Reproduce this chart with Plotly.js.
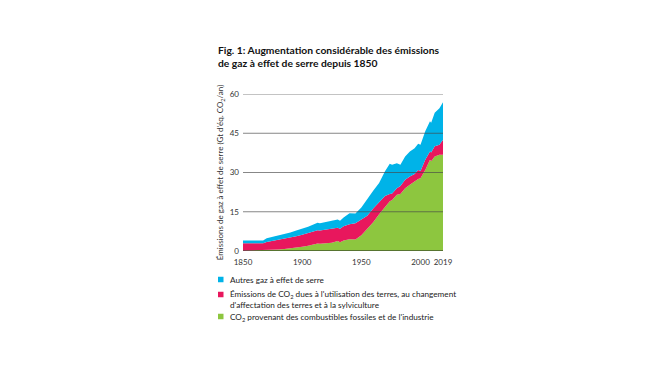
<!DOCTYPE html>
<html>
<head>
<meta charset="utf-8">
<script src="https://cdn.plot.ly/plotly-3.0.1.min.js"></script>
<style>html,body{margin:0;padding:0;background:#fff;}#chart{width:670px;height:377px;}</style>
</head>
<body>
<div id="chart"></div>
<script>
const years = [1850,1860,1867,1870,1875,1880,1885,1890,1895,1900,1905,1910,1913,1915,1920,1925,1930,1932,1935,1940,1945,1950,1955,1960,1965,1970,1974,1976,1980,1983,1987,1991,1995,1998,2000,2004,2008,2009,2012,2016,2019];
const co2Fossil = [0.1,0.2,0.35,0.4,0.5,0.6,0.8,1.0,1.3,1.6,2.0,2.6,2.9,2.8,3.0,3.2,3.8,3.3,4.0,4.5,4.4,6.0,8.5,11.0,14.0,17.0,19.0,19.5,21.5,21.8,24.0,25.3,26.6,27.5,27.8,31.0,34.9,34.3,36.1,36.8,36.8];
const co2Land = [2.9,2.8,2.65,3.0,3.3,3.6,3.9,4.1,4.3,4.6,4.8,4.9,5.0,5.0,5.1,5.2,5.1,5.2,5.5,5.7,6.2,6.0,5.0,5.2,4.6,4.0,2.8,2.5,2.5,3.0,3.2,3.2,2.8,3.5,2.8,3.9,3.1,3.3,3.9,3.8,5.7];
const otherGas = [1.0,1.0,1.0,1.5,1.6,1.8,1.9,2.0,2.2,2.3,2.5,2.7,2.9,2.8,2.9,3.0,3.1,3.1,3.3,4.2,3.7,4.6,6.5,6.8,7.4,9.5,11.5,11.0,9.5,8.2,8.9,9.5,9.9,10.0,10.0,10.9,11.6,11.4,12.8,14.0,14.3];
const xTickVals = [1850,1900,1950,2000,2019];
const yTickVals = [0,15,30,45,60];
const seriesNames = [
  "CO<sub>2</sub> provenant des combustibles fossiles et de l'industrie",
  "Émissions de CO<sub>2</sub> dues à l'utilisation des terres, au changement<br>d'affectation des terres et à la sylviculture",
  "Autres gaz à effet de serre"
];
const colors = ["#8dc63f", "#e8175d", "#00b3e8"];

const FONT = "Lato, 'Open Sans', sans-serif";
const W = 670, H = 377;
const L = 243, R = 443, T = 94, B = 251;
const px2x = p => (p - L) / (R - L);
const py2y = p => (B - p) / (B - T);

const values = [co2Fossil, co2Land, otherGas];
const traces = values.map((v, i) => ({
  x: years, y: v, type: 'scatter', mode: 'lines',
  stackgroup: 'one', fillcolor: colors[i],
  line: {width: 0, color: colors[i]},
  name: seriesNames[i], showlegend: false, hoverinfo: 'x+y'
}));

const shapes = yTickVals.map(v => ({
  type: 'line', xref: 'x', yref: 'y', x0: years[0], x1: years[years.length-1], y0: v, y1: v,
  line: {color: v === 0 ? '#222' : 'rgba(70,70,70,0.65)', width: v === 0 ? 1.2 : 1}, layer: 'above'
}));

// legend (drawn as shapes + annotations), top to bottom
const legendItems = [
  {idx: 2, sq: 279.5, txt: 280},
  {idx: 1, sq: 294.5, txt: 299.8},
  {idx: 0, sq: 316.5, txt: 317}
];
const annotations = [];
legendItems.forEach(it => {
  shapes.push({type: 'rect', xref: 'paper', yref: 'paper',
    x0: px2x(218), x1: px2x(223.5), y0: py2y(it.sq - 2.75), y1: py2y(it.sq + 2.75),
    fillcolor: colors[it.idx], line: {width: 0}});
  annotations.push({xref: 'paper', yref: 'paper', x: px2x(228), y: py2y(it.txt),
    xanchor: 'left', yanchor: 'middle', align: 'left', showarrow: false,
    text: seriesNames[it.idx], font: {family: FONT, size: 8.2, color: '#222'}});
});

const layout = {
  width: W, height: H,
  margin: {l: L, r: W - R, t: T, b: H - B},
  paper_bgcolor: '#fff', plot_bgcolor: '#fff',
  showlegend: false,
  title: {text: '<b>Fig. 1: Augmentation considérable des émissions<br>de gaz à effet de serre depuis 1850</b>',
    x: 218 / W, xanchor: 'left', xref: 'container', y: 1 - 54 / H, yanchor: 'top', yref: 'container',
    font: {family: FONT, size: 10.3, color: '#111'}},
  xaxis: {range: [1850, 2019], tickvals: xTickVals, ticktext: xTickVals.map(String),
    showgrid: false, zeroline: false, showline: false, ticks: '', ticklabelstandoff: 5,
    tickfont: {family: FONT, size: 8, color: '#333'}, fixedrange: true},
  yaxis: {range: [0, 60], tickvals: yTickVals, ticktext: yTickVals.map(String),
    showgrid: false, zeroline: false, showline: false, ticks: '', ticklabelstandoff: 3,
    tickfont: {family: FONT, size: 8, color: '#333'},
    title: {text: "Émissions de gaz à effet de serre (Gt d'éq. CO<sub>2</sub>/an)", standoff: 4,
      font: {family: FONT, size: 8, color: '#333'}}, fixedrange: true},
  shapes: shapes,
  annotations: annotations
};

Plotly.newPlot('chart', traces, layout, {displayModeBar: false, staticPlot: true});
</script>
</body>
</html>
